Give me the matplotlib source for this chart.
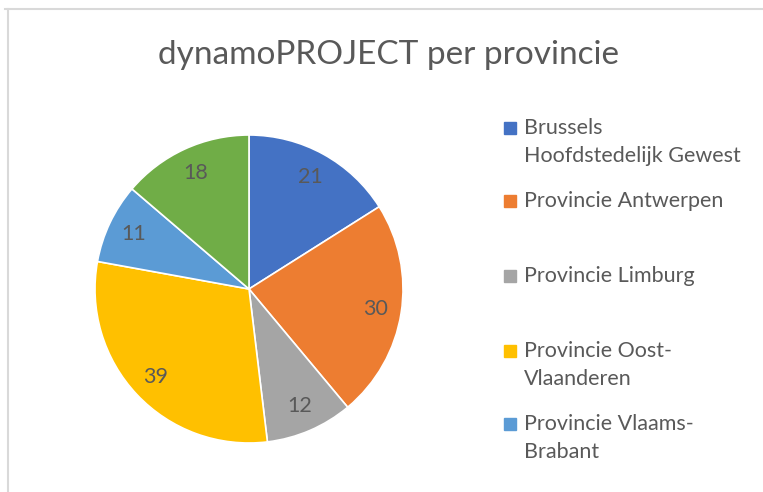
import matplotlib.pyplot as plt
from matplotlib.patches import Rectangle
from matplotlib.lines import Line2D

W, H = 763, 492

provinces = ['Brussels\nHoofdstedelijk Gewest', 'Provincie Antwerpen', 'Provincie Limburg',
             'Provincie Oost-\nVlaanderen', 'Provincie Vlaams-\nBrabant', 'Provincie West-\nVlaanderen']
counts = [21, 30, 12, 39, 11, 18]
colors = ['#4472C4', '#ED7D31', '#A5A5A5', '#FFC000', '#5B9BD5', '#70AD47']

text_col = '#595959'
plt.rcParams['font.family'] = ['Lato', 'DejaVu Sans']


def px(x, y):
    # pixel coords (top-left origin) -> figure fraction
    return x / W, 1 - y / H


fig = plt.figure(figsize=(W / 100, H / 100), dpi=100)

# chart border (only top/left visible in the crop)
fig.add_artist(Line2D([5 / W, 1], [1 - 9 / H] * 2, color='#d9d9d9', lw=1.5))
fig.add_artist(Line2D([8 / W] * 2, [1 - 9 / H, 0], color='#d9d9d9', lw=1.5))

fig.text(*px(389, 55), 'dynamoPROJECT per provincie', ha='center', va='center',
         fontsize=24, color=text_col)

cx, cy, r = 249, 289, 154
ax = fig.add_axes([(cx - r) / W, 1 - (cy + r) / H, 2 * r / W, 2 * r / H])
wedges, texts = ax.pie(counts, colors=colors, startangle=90, counterclock=False,
                       labels=[str(c) for c in counts], labeldistance=0.83,
                       wedgeprops=dict(edgecolor='white', linewidth=1.2),
                       textprops=dict(color=text_col, fontsize=15.5))
for t in texts:
    t.set_ha('center')
    t.set_va('center')
ax.set_xlim(-1, 1)
ax.set_ylim(-1, 1)
ax.set_aspect('auto')
ax.axis('off')

# legend, laid out like the Excel legend (last entry falls outside the image)
first_line_y = [128, 201, 276, 351, 424]
line_gap = 28
for name, col, y in zip(provinces[:5], colors[:5], first_line_y):
    fig.add_artist(Rectangle(px(504, y + 6), 12 / W, 12 / H, color=col))
    for k, line in enumerate(name.split('\n')):
        fig.text(*px(524, y + k * line_gap), line, ha='left', va='center',
                 fontsize=15.5, color=text_col)

fig.savefig('out.png', dpi=100)
